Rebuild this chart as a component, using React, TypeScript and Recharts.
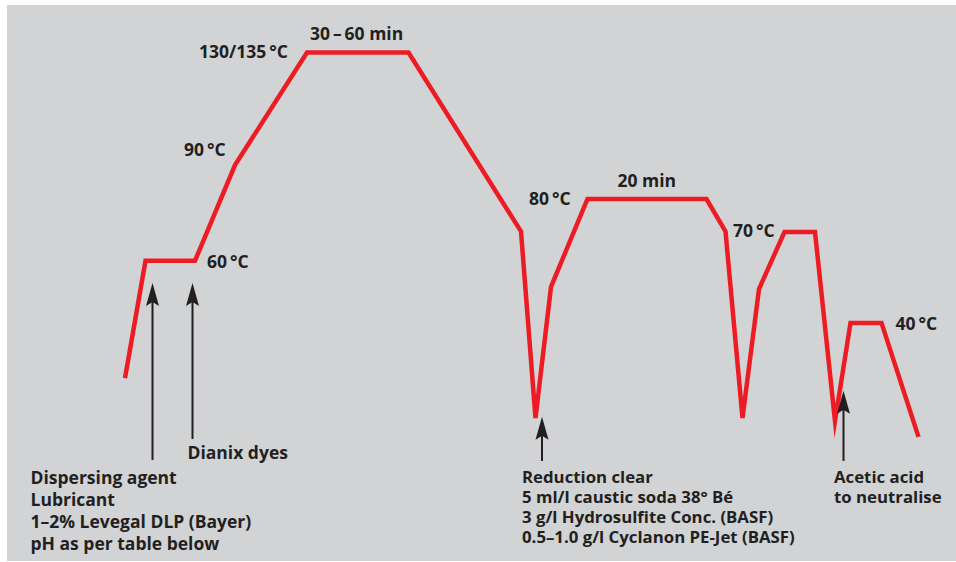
import React from 'react';
import { LineChart, Line, XAxis, YAxis, ReferenceLine, ReferenceDot } from 'recharts';

// dyeing profile: time (arbitrary units) vs temperature (°C)
const time = [0, 4.1, 14, 22, 36.4, 56.7, 79.2, 82.1, 85.2, 92.5, 116.3, 120.1, 123.5, 126.8, 131.9, 138, 142, 145.1, 151.3, 158.7];
const temp = [21.3, 60.4, 60.4, 92.3, 129.8, 129.8, 70.2, 8, 51.7, 81, 81, 70.2, 8, 51, 70, 70, 7, 39.7, 39.7, 1.7];

const profile = time.map((t, i) => ({ t, temp: temp[i] }));

// additions (arrows): time, bottom and tip temperature
const arrowTimes = [5.5, 13.5, 83.4, 143.7];
const arrowFrom = [-6, 1, -6.3, -6.3];
const arrowTo = [53, 53, 8.4, 17.1];

// text annotations
const labelText = [
  '130/135\u2009°C', '30\u2009–\u200960 min', '90\u2009°C', '60\u2009°C',
  '80\u2009°C', '20 min', '70\u2009°C', '40\u2009°C', 'Dianix dyes',
];
const labelTime = [14.8, 37, 11.8, 16.4, 80.8, 98.5, 121.6, 154.1, 12.5];
const labelTemp = [127.9, 134, 95.3, 57.9, 79, 85.1, 68.2, 37.3, -5.7];

const noteBlocks = [
  ['Dispersing agent', 'Lubricant', '1–2% Levegal DLP (Bayer)', 'pH as per table below'],
  ['Reduction clear', '5 ml/l caustic soda 38° Bé', '3 g/l Hydrosulfite Conc. (BASF)', '0.5–1.0 g/l Cyclanon PE-Jet (BASF)'],
  ['Acetic acid', 'to neutralise'],
];
const noteTime = [-18.9, 79.4, 141.8];
const noteTemp = [-14.1, -13.8, -13.8];

const RED = '#ed1c24';
const INK = '#231f20';
const FONT = '"Open Sans", sans-serif';

const arrowShape = (p: any) => {
  const { x1, y1, x2, y2 } = p;
  return (
    <g>
      <line x1={x1} y1={y1} x2={x2} y2={y2 + 16} stroke={INK} strokeWidth={2} />
      <polygon points={`${x2},${y2} ${x2 + 6.5},${y2 + 23} ${x2},${y2 + 19} ${x2 - 6.5},${y2 + 23}`} fill={INK} />
    </g>
  );
};

const textShape = (str: string, size: number) => (p: any) => (
  <text x={p.cx} y={p.cy} fill={INK} fontFamily={FONT} fontWeight={700} fontSize={size}>{str}</text>
);

const blockShape = (lines: string[], gap: number, size: number) => (p: any) => (
  <text x={p.cx} y={p.cy} fill={INK} fontFamily={FONT} fontWeight={700} fontSize={size}>
    {lines.map((l, i) => (
      <tspan key={i} x={p.cx} y={p.cy + i * gap}>{l}</tspan>
    ))}
  </text>
);

export default function App() {
  return (
    <div style={{ position: 'absolute', left: 0, top: 0, width: 956, height: 562, background: '#fff' }}>
      <div style={{ position: 'absolute', left: 7, top: 5, width: 949, height: 556, background: '#d1d3d4' }} />
      <div style={{ position: 'absolute', left: 0, top: 0 }}>
        <LineChart width={956} height={562} data={profile} margin={{ top: 0, right: 0, bottom: 0, left: 0 }}>
          <XAxis dataKey="t" type="number" domain={[-25, 166.2]} hide />
          <YAxis type="number" domain={[-40, 147.33]} hide />
          <Line
            type="linear"
            dataKey="temp"
            stroke={RED}
            strokeWidth={4.5}
            strokeLinejoin="miter"
            strokeMiterlimit={8.5}
            dot={false}
            activeDot={false}
            isAnimationActive={false}
          />
          {arrowTimes.map((t, i) => (
            <ReferenceLine
              key={'a' + i}
              segment={[{ x: t, y: arrowFrom[i] }, { x: t, y: arrowTo[i] }]}
              shape={arrowShape}
            />
          ))}
          {labelText.map((s, i) => (
            <ReferenceDot key={'l' + i} x={labelTime[i]} y={labelTemp[i]} r={0} shape={textShape(s, 17.5)} />
          ))}
          {noteBlocks.map((b, i) => (
            <ReferenceDot
              key={'n' + i}
              x={noteTime[i]}
              y={noteTemp[i]}
              r={0}
              shape={blockShape(b, i === 0 ? 22 : 20, i === 0 ? 17.5 : 16.8)}
            />
          ))}
        </LineChart>
      </div>
    </div>
  );
}
